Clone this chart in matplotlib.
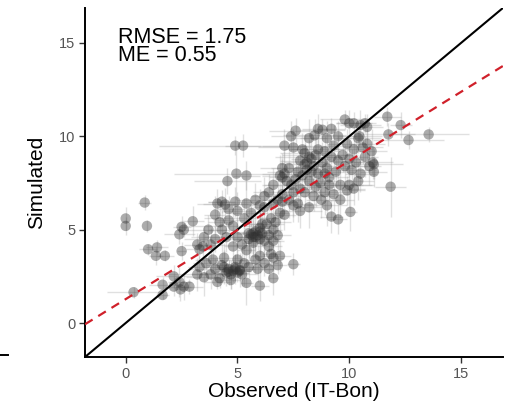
import matplotlib
matplotlib.use("Agg")
import matplotlib.pyplot as plt
from matplotlib.lines import Line2D
import numpy as np

plt.rcParams['font.family'] = ['Liberation Sans', 'DejaVu Sans']

# Observed vs simulated values with their uncertainty
observed = [
    0.0, 0.0, 0.85, 0.95, 1.0, 1.4, 1.35, 1.75, 0.35, 1.65, 1.65, 2.15, 2.4, 2.6, 2.15, 2.85, 2.45,
    2.4, 2.5, 2.6, 3.0, 2.5, 3.3, 3.45, 3.2, 3.5, 3.3,
    3.8, 4.0, 4.2, 4.3, 4.5, 4.6, 4.7, 4.8, 4.9, 5.0, 5.1, 5.2, 4.4, 5.0, 5.3, 5.5, 5.8, 6.0, 6.2,
    6.4, 6.6, 6.8, 5.9, 4.1, 3.9, 4.7, 5.4, 6.0, 6.6, 7.5, 3.6, 6.5, 6.9,
    3.8, 4.0, 4.3, 4.5, 4.2, 4.6, 4.8, 5.0, 5.2, 5.4, 5.5, 5.7, 5.8, 5.9, 6.0, 6.1, 6.0, 5.7, 6.2,
    6.4, 6.3, 6.5, 6.6, 6.7, 6.8, 6.4, 5.3, 5.6, 5.0, 4.9, 5.4, 5.8, 6.2, 6.6, 4.1, 4.3, 4.45, 4.6,
    4.0, 3.7, 3.5, 6.9, 7.0, 7.1, 4.55, 3.2, 4.8, 6.6,
    4.9, 5.25, 4.95, 5.4,
    7.0, 7.1, 7.2, 7.3, 7.4, 7.5, 7.6, 7.7, 7.8, 7.9, 8.0, 8.1, 8.2, 8.3, 8.4, 8.5, 8.6, 8.7, 8.8,
    8.9, 9.0, 9.1, 9.2, 9.3, 9.4, 9.5, 9.6, 9.7, 9.8, 9.9, 10.0, 10.1, 10.2, 10.3, 10.4, 10.5, 10.6,
    10.7, 10.8, 10.9, 11.0, 11.05, 11.1,
    7.1, 7.5, 7.4, 7.6, 8.2, 8.45, 8.6, 8.8, 9.8, 10.0, 10.2, 10.5, 10.7, 10.8, 9.0, 9.5, 9.2,
    7.7, 7.8, 8.2, 8.4, 8.75, 8.9, 9.2, 9.5, 10.05, 9.0, 9.3, 9.6, 9.9, 10.0, 10.2, 10.4, 9.1, 8.5,
    8.0, 7.3, 7.0, 6.8, 7.5,
    11.7, 11.75, 12.3, 12.65, 13.55, 11.85, 10.45, 11.1,
    6.4, 6.6, 6.9, 7.0, 6.2, 6.0,
    7.8, 8.0, 8.2, 8.3, 8.6, 8.9, 7.9, 8.1,
    5.6, 5.8, 6.0, 5.5, 4.6, 4.9, 5.1, 4.4, 5.7, 6.1,
]
simulated = [
    5.6, 5.2, 6.45, 5.2, 3.95, 4.05, 3.6, 3.6, 1.65, 2.05, 1.5, 2.5, 2.2, 1.95, 1.95, 1.95, 1.8,
    4.75, 5.15, 5.0, 5.45, 3.85, 3.95, 4.1, 2.6, 2.45, 3.0,
    2.6, 2.9, 2.4, 3.1, 2.7, 2.9, 2.6, 2.8, 3.0, 2.7, 2.85, 2.6, 3.5, 3.4, 3.2, 3.0, 3.4, 3.6, 3.2,
    2.9, 3.5, 3.1, 2.9, 2.2, 3.4, 2.3, 2.15, 2.0, 2.4, 3.15, 3.2, 3.7, 3.6,
    4.2, 4.5, 5.0, 4.6, 5.4, 5.5, 5.2, 4.6, 4.2, 3.9, 4.8, 4.6, 4.9, 4.7, 4.5, 4.8, 5.1, 4.3, 4.4,
    4.1, 5.3, 5.6, 5.0, 5.4, 4.7, 4.7, 5.6, 5.9, 6.0, 6.5, 6.4, 6.6, 6.2, 6.4, 6.4, 6.5, 6.35, 6.1,
    5.8, 5.0, 4.6, 5.9, 6.5, 5.8, 7.6, 4.2, 4.1, 4.4,
    9.5, 9.5, 8.0, 7.9,
    7.8, 8.0, 7.6, 8.3, 7.4, 7.0, 7.7, 8.1, 7.2, 7.9, 8.5, 8.2, 7.6, 8.8, 8.4, 9.0, 8.0, 7.5, 8.6,
    9.2, 8.3, 7.8, 8.9, 9.5, 8.1, 8.7, 7.4, 9.0, 8.4, 9.6, 8.8, 8.2, 9.3, 8.6, 9.9, 8.0, 9.4,
    8.9, 9.6, 8.4, 9.2, 8.6, 8.1,
    9.5, 9.4, 10.0, 10.3, 9.9, 10.05, 10.4, 10.35, 10.9, 10.7, 10.7, 10.6, 10.7, 10.5, 9.9, 10.0, 10.4,
    6.4, 6.0, 6.2, 6.8, 6.6, 7.0, 5.7, 5.55, 5.95, 6.3, 6.9, 6.6, 7.1, 7.4, 7.2, 7.6, 7.4, 7.3,
    7.0, 6.6, 6.9, 6.6, 6.3,
    11.05, 10.1, 10.6, 9.8, 10.1, 7.3, 10.0, 8.5,
    7.0, 7.4, 7.9, 8.3, 6.8, 6.3,
    8.7, 9.1, 8.9, 8.1, 9.3, 8.0, 9.3, 8.6,
    4.75, 4.6, 4.9, 4.5, 2.75, 2.9, 2.8, 3.0, 4.8, 5.3,
]
observed_err = [
    0.0, 0.0, 0.3, 0.0, 0.4, 0.5, 0.3, 0.4, 1.2, 0.6, 0.3, 0.8, 0.5, 0.3, 0.4, 0.6, 0.2,
    0.7, 0.4, 0.3, 0.5, 0.2, 0.6, 0.4, 1.5, 0.8, 0.5,
    0.9, 1.2, 0.5, 0.7, 1.0, 0.4, 0.6, 0.8, 1.1, 0.5, 0.4, 0.7, 0.9, 0.3, 0.6, 0.5, 0.8, 0.4, 0.6,
    0.3, 0.5, 0.4, 0.7, 0.6, 0.8, 0.5, 0.3, 0.4, 0.2, 0.3, 0.6, 0.4, 0.5,
    0.8, 1.4, 0.6, 1.0, 0.5, 0.7, 2.0, 0.9, 0.6, 0.4, 1.2, 0.5, 0.8, 0.6, 1.0, 0.4, 0.7, 0.5, 0.9,
    0.6, 0.8, 0.5, 0.4, 0.7, 0.6, 0.5, 1.8, 0.9, 0.7, 1.2, 0.6, 0.8, 0.5, 0.4, 0.9, 0.6, 1.0, 0.7,
    0.5, 0.8, 0.6, 0.4, 0.7, 0.5, 1.5, 0.6, 0.4, 0.3,
    3.4, 0.8, 2.8, 0.6,
    0.6, 1.0, 0.5, 0.8, 1.2, 0.7, 0.9, 1.4, 0.5, 0.8, 1.1, 0.6, 1.3, 0.9, 0.7, 1.5, 0.8, 0.6, 1.0,
    0.7, 1.2, 0.9, 0.5, 1.4, 0.8, 0.6, 1.0, 0.7, 1.3, 0.9, 0.6, 1.1, 0.8, 0.5, 1.0, 0.7, 0.9,
    0.6, 0.8, 0.5, 0.7, 0.9, 0.6,
    1.0, 1.6, 0.9, 1.2, 0.8, 1.4, 0.7, 1.0, 1.1, 0.6, 0.8, 0.9, 0.5, 0.7, 1.2, 0.8, 0.6,
    0.8, 1.0, 0.6, 0.9, 0.7, 1.2, 0.5, 0.4, 0.3, 0.9, 0.7, 0.6, 0.8, 1.0, 0.5, 0.7, 2.0, 0.8,
    0.9, 0.6, 0.7, 0.5, 0.8,
    0.6, 1.2, 0.5, 1.6, 1.8, 0.7, 1.0, 1.3,
    0.7, 0.5, 0.8, 1.0, 0.6, 0.5,
    0.9, 1.1, 1.5, 0.7, 1.2, 0.6, 0.8, 1.0,
    0.6, 0.8, 0.5, 0.7, 0.6, 0.9, 0.5, 0.7, 0.6, 0.8,
]
simulated_err = [
    0.6, 0.5, 0.4, 0.3, 0.3, 0.4, 0.5, 0.3, 0.3, 0.4, 0.2, 0.6, 0.8, 0.7, 0.5, 0.4, 0.6,
    0.5, 0.6, 0.4, 0.8, 0.5, 0.6, 0.7, 0.9, 1.0, 0.6,
    0.8, 0.6, 0.5, 0.9, 0.7, 0.5, 0.8, 0.6, 0.7, 0.5, 0.9, 0.6, 0.8, 0.7, 1.2, 0.6, 0.8, 0.9, 0.7,
    0.6, 0.8, 0.5, 0.7, 0.4, 0.6, 0.5, 1.2, 0.8, 0.9, 0.6, 0.5, 0.7, 0.8,
    0.9, 0.7, 1.0, 0.8, 1.2, 0.6, 0.9, 1.1, 0.7, 0.8, 1.3, 0.9, 1.0, 0.8, 1.4, 0.7, 0.9, 1.0, 0.8,
    1.1, 0.9, 1.2, 0.7, 1.0, 0.8, 0.9, 1.1, 0.7, 1.0, 0.8, 1.2, 0.9, 0.7, 1.0, 0.8, 0.6, 0.9, 0.7,
    1.0, 0.8, 0.6, 1.1, 0.9, 0.8, 0.7, 0.6, 0.9, 0.8,
    0.5, 0.6, 1.4, 0.8,
    1.0, 1.2, 0.9, 1.1, 0.8, 1.3, 1.0, 0.9, 1.2, 0.8, 1.1, 1.0, 0.9, 1.3, 0.8, 1.0, 1.2, 0.9, 1.1,
    0.8, 1.0, 1.2, 0.9, 1.1, 0.8, 1.3, 1.0, 0.9, 1.2, 0.8, 1.0, 1.1, 0.9, 1.2, 0.8, 1.0, 0.9,
    1.1, 0.8, 1.0, 1.2, 0.9, 0.8,
    0.9, 1.0, 0.8, 0.7, 1.0, 0.9, 0.8, 0.6, 0.5, 0.7, 0.6, 0.8, 0.5, 0.7, 0.9, 0.8, 0.6,
    1.0, 0.9, 1.1, 0.8, 1.0, 1.2, 0.9, 0.8, 1.0, 1.1, 0.9, 1.0, 0.8, 1.2, 0.9, 1.0, 0.8, 1.1,
    0.9, 1.0, 0.8, 1.1, 0.9,
    0.5, 0.6, 0.7, 0.5, 0.4, 1.6, 0.6, 0.8,
    1.0, 0.9, 1.1, 0.8, 1.0, 0.9,
    0.8, 1.0, 0.9, 1.1, 0.8, 1.0, 0.9, 0.8,
    1.0, 0.8, 1.2, 0.9, 0.7, 0.8, 0.6, 0.9, 1.1, 0.8,
]

# Fitted regression of simulated on observed
fit_intercept = 1.28
fit_slope = 0.74

stats_label = "RMSE = 1.75\nME = 0.55"
x_label = "Observed (IT-Bon)"
y_label = "Simulated"
ticks = [0, 5, 10, 15]
lims = (-1.82, 16.87)

fig = plt.figure(figsize=(5.10, 4.13), dpi=100)
ax = fig.add_axes([0.1667, 0.1356, 0.8193, 0.845])

ax.errorbar(observed, simulated, xerr=observed_err, yerr=simulated_err,
            fmt='none', ecolor='#9a9a9a', elinewidth=1.0, alpha=0.3, zorder=1)
ax.scatter(observed, simulated, s=56, color='#303030', alpha=0.4,
           edgecolors='none', zorder=2)

xs = np.array(lims)
ax.plot(xs, xs, color='black', lw=1.5, zorder=3)
ax.plot(xs, fit_intercept + fit_slope * xs, color='#d0202a', lw=1.6,
        ls=(0, (4, 3)), zorder=4)

ax.set_xlim(lims)
ax.set_ylim(lims)
ax.set_xticks(ticks)
ax.set_yticks(ticks)

for side in ('top', 'right'):
    ax.spines[side].set_visible(False)
for side in ('left', 'bottom'):
    ax.spines[side].set_linewidth(1.4)
    ax.spines[side].set_color('black')

ax.tick_params(axis='both', length=4, width=1.0, color='#333333',
               labelcolor='#555555', labelsize=10.5, pad=3)

ax.set_xlabel(x_label, fontsize=15, color='black', labelpad=1)
ax.set_ylabel(y_label, fontsize=15, color='black', labelpad=9)

ax.text(0.08, 0.945, stats_label, transform=ax.transAxes, fontsize=15.5,
        va='top', ha='left', linespacing=0.8)

# axis stub from the neighbouring panel
fig.add_artist(Line2D([0.0, 0.016], [0.1405, 0.1405], color='black', lw=1.4))

fig.savefig("out.png", dpi=100)
